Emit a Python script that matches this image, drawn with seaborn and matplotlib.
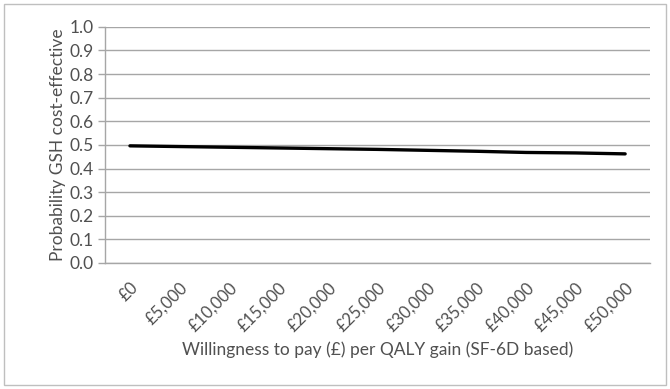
import numpy as np
import pandas as pd
from matplotlib import pyplot as plt
from matplotlib.patches import Rectangle
import seaborn as sns

# Данные кривой (CEAC)
wtp = [0, 5000, 10000, 15000, 20000, 25000, 30000, 35000, 40000, 45000, 50000]
prob = [0.496, 0.493, 0.490, 0.487, 0.484, 0.481, 0.477, 0.473, 0.468, 0.466, 0.462]
wtp_labels = ["£0", "£5,000", "£10,000", "£15,000", "£20,000", "£25,000",
              "£30,000", "£35,000", "£40,000", "£45,000", "£50,000"]

sns.set_style("white")
plt.rcParams['font.family'] = ['Lato', 'DejaVu Sans']

df = pd.DataFrame({"pos": np.arange(len(wtp)), "prob": prob})

fig = plt.figure(figsize=(6.7, 3.89), dpi=100)
ax = fig.add_axes([0.157, 0.324, 0.813, 0.607])

# Рамка вокруг всего графика
fig.patches.append(Rectangle((0.006, 0.01), 0.988, 0.98, transform=fig.transFigure,
                             fill=False, edgecolor="#bfbfbf", linewidth=1))

sns.lineplot(data=df, x="pos", y="prob", color="black", linewidth=2.4, ax=ax)

grid_c = "#a6a6a6"
text_c = "#505050"

ax.set_ylim(0, 1.0)
ax.set_yticks(np.arange(0, 1.01, 0.1))
ax.set_yticklabels([f"{v:.1f}" for v in np.arange(0, 1.01, 0.1)], fontsize=12.5, color=text_c)
ax.yaxis.grid(True, color=grid_c, linewidth=1)
ax.set_axisbelow(True)

ax.set_xlim(-0.5, len(wtp) - 0.5)
ax.set_xticks(np.arange(len(wtp)))
ax.set_xticklabels(wtp_labels, rotation=45, ha="right", rotation_mode="anchor",
                   fontsize=12, color=text_c)
ax.set_xticks(np.arange(-0.5, len(wtp)), minor=True)
ax.tick_params(axis="x", which="major", length=0, pad=12)
ax.tick_params(axis="x", which="minor", length=5, color=grid_c, width=1, direction="out")
ax.tick_params(axis="y", length=5, color=grid_c, width=1, direction="out", left=True, pad=3)

for side in ["top", "right"]:
    ax.spines[side].set_visible(False)
for side in ["left", "bottom"]:
    ax.spines[side].set_color(grid_c)
    ax.spines[side].set_linewidth(1)

ax.set_xlabel("Willingness to pay (£) per QALY gain (SF-6D based)", fontsize=12.5, color=text_c, labelpad=5)
ax.set_ylabel("Probability GSH cost-effective", fontsize=12.5, color=text_c, labelpad=3)

fig.savefig("out.png", dpi=100)
